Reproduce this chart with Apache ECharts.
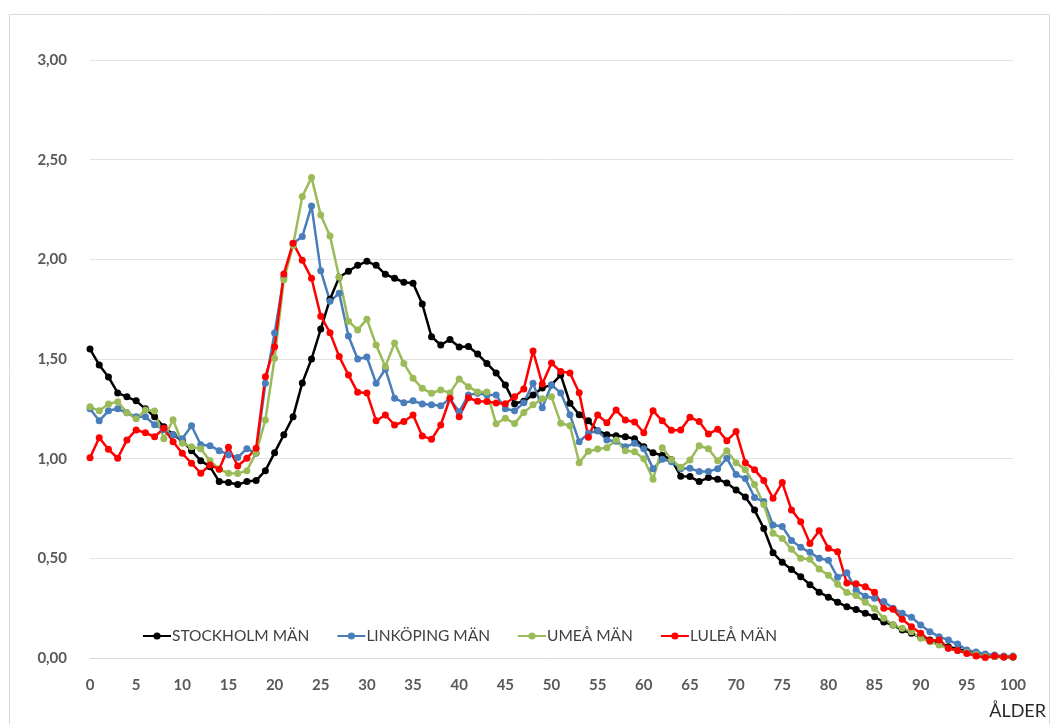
<!DOCTYPE html>
<html>
<head>
<meta charset="utf-8">
<script src="https://cdn.jsdelivr.net/npm/echarts@6/dist/echarts.min.js"></script>
<style>
html,body{margin:0;padding:0;background:#fff;}
#chart{width:1058px;height:724px;}
</style>
</head>
<body>
<div id="chart"></div>
<script>
const ages = [0,1,2,3,4,5,6,7,8,9,10,11,12,13,14,15,16,17,18,19,20,21,22,23,24,25,26,27,28,29,30,31,32,33,34,35,36,37,38,39,40,41,42,43,44,45,46,47,48,49,50,51,52,53,54,55,56,57,58,59,60,61,62,63,64,65,66,67,68,69,70,71,72,73,74,75,76,77,78,79,80,81,82,83,84,85,86,87,88,89,90,91,92,93,94,95,96,97,98,99,100];

const stockholm = [1.55,1.47,1.41,1.33,1.31,1.29,1.25,1.21,1.16,1.12,1.09,1.04,0.99,0.96,0.885,0.88,0.87,0.885,0.89,0.94,
1.03,1.12,1.21,1.38,1.50,1.65,1.80,1.91,1.94,1.97,1.99,1.97,1.925,1.905,1.885,1.88,1.776,1.612,1.57,1.598,
1.56,1.563,1.525,1.478,1.43,1.37,1.276,1.288,1.32,1.355,1.37,1.42,1.278,1.22,1.19,1.14,1.12,1.115,1.11,1.10,
1.06,1.03,1.016,0.995,0.912,0.91,0.885,0.905,0.897,0.878,0.843,0.808,0.742,0.65,0.528,0.48,0.444,0.408,0.368,0.33,
0.305,0.28,0.257,0.243,0.225,0.207,0.18,0.166,0.14,0.124,0.104,0.09,0.074,0.057,0.045,0.033,0.022,0.012,0.008,0.005,0.005];

const linkoping = [1.25,1.19,1.24,1.25,1.23,1.21,1.21,1.17,1.145,1.12,1.10,1.165,1.07,1.065,1.04,1.02,1.006,1.05,1.027,1.378,
1.63,1.91,2.08,2.114,2.268,1.943,1.79,1.83,1.615,1.50,1.51,1.378,1.45,1.303,1.281,1.29,1.274,1.27,1.265,1.30,
1.235,1.32,1.328,1.32,1.32,1.25,1.24,1.28,1.378,1.255,1.37,1.33,1.22,1.085,1.127,1.14,1.094,1.087,1.06,1.077,
1.05,0.95,0.997,0.985,0.95,0.952,0.935,0.935,0.95,1.002,0.92,0.90,0.805,0.785,0.667,0.66,0.59,0.555,0.53,0.50,
0.49,0.405,0.428,0.34,0.31,0.30,0.283,0.25,0.224,0.204,0.166,0.132,0.107,0.09,0.07,0.04,0.03,0.02,0.015,0.01,0.01];

const umea = [1.26,1.24,1.274,1.286,1.23,1.20,1.244,1.239,1.10,1.195,1.077,1.06,1.05,0.99,0.947,0.927,0.925,0.94,1.03,1.194,
1.504,1.897,2.07,2.315,2.41,2.223,2.117,1.91,1.69,1.646,1.70,1.57,1.462,1.58,1.478,1.403,1.353,1.328,1.345,1.33,
1.40,1.361,1.335,1.335,1.175,1.203,1.176,1.232,1.27,1.30,1.31,1.178,1.165,0.98,1.037,1.048,1.055,1.094,1.04,1.035,
1.0,0.897,1.055,0.995,0.957,0.993,1.065,1.05,0.99,1.04,0.98,0.945,0.87,0.77,0.626,0.60,0.545,0.50,0.495,0.446,
0.415,0.37,0.329,0.313,0.28,0.248,0.20,0.166,0.149,0.132,0.099,0.082,0.065,0.049,0.037,0.027,0.017,0.008,0.008,0.005,0.005];

const lulea = [1.005,1.105,1.047,1.002,1.094,1.144,1.13,1.11,1.152,1.085,1.027,0.977,0.927,0.968,0.947,1.057,0.963,1.002,1.052,1.411,
1.562,1.927,2.081,1.995,1.905,1.715,1.632,1.512,1.42,1.333,1.33,1.19,1.219,1.169,1.186,1.219,1.114,1.097,1.169,1.303,
1.21,1.305,1.288,1.287,1.279,1.275,1.31,1.35,1.54,1.375,1.48,1.437,1.43,1.331,1.107,1.219,1.18,1.244,1.194,1.184,
1.13,1.241,1.19,1.142,1.144,1.208,1.186,1.124,1.147,1.09,1.136,0.98,0.945,0.89,0.801,0.88,0.743,0.684,0.575,0.638,
0.55,0.533,0.376,0.372,0.358,0.33,0.249,0.245,0.194,0.157,0.124,0.087,0.09,0.049,0.037,0.023,0.01,0.003,0.01,0.005,0.005];

const seriesNames = ['STOCKHOLM MÄN','LINKÖPING MÄN','UMEÅ MÄN','LULEÅ MÄN'];
const seriesColors = ['#000000','#4a7ebb','#9bbb59','#ff0000'];
const seriesValues = [stockholm, linkoping, umea, lulea];

const chart = echarts.init(document.getElementById('chart'), null, {renderer:'canvas'});
const FONT = 'Lato';

chart.setOption({
  backgroundColor:'#ffffff',
  animation:false,
  grid:{left:90, right:45, top:60, bottom:66, containLabel:false},
  legend:{
    data:seriesNames,
    left:137, top:623,
    itemWidth:28, itemHeight:9, itemGap:27,
    textStyle:{fontFamily:FONT, fontSize:15.5, color:'#404040', padding:[0,0,0,-4]}
  },
  xAxis:{
    type:'category', data:ages, boundaryGap:false,
    axisLine:{show:true, lineStyle:{color:'#d9d9d9', width:1}},
    axisTick:{show:false},
    axisLabel:{interval:4, margin:20, fontFamily:FONT, fontSize:15, fontWeight:'bold', color:'#595959'},
    splitLine:{show:false}
  },
  yAxis:{
    type:'value', min:0, max:3, interval:0.5,
    axisLine:{show:false}, axisTick:{show:false},
    axisLabel:{margin:23, fontFamily:FONT, fontSize:15, fontWeight:'bold', color:'#595959',
      formatter:v=>v.toFixed(2).replace('.',',')},
    splitLine:{lineStyle:{color:'#e3e3e3', width:1}}
  },
  graphic:[
    {type:'rect', shape:{x:9.5, y:14.5, width:1040, height:740}, style:{fill:'none', stroke:'#d9d9d9', lineWidth:1}, silent:true},
    {type:'text', right:12, top:702, style:{text:'ÅLDER', font:'18px Lato', fill:'#262626'}}
  ],
  series: seriesNames.map((n,i)=>({
    name:n, type:'line', data:seriesValues[i],
    symbol:'circle', symbolSize:7, showSymbol:true, showAllSymbol:true,
    lineStyle:{color:seriesColors[i], width:2.5},
    itemStyle:{color:seriesColors[i]},
    emphasis:{disabled:true}
  }))
});
</script>
</body>
</html>
